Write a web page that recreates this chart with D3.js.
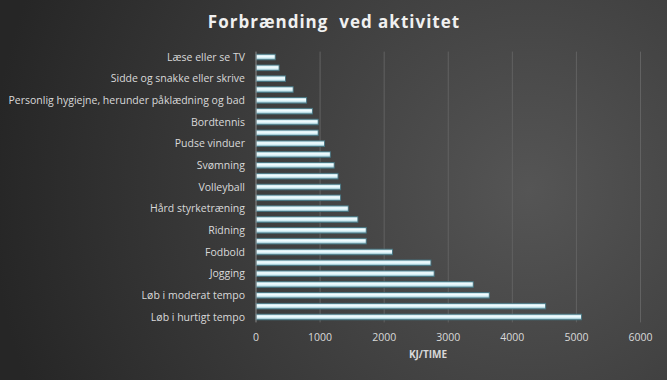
<!DOCTYPE html>
<html><head><meta charset="utf-8">
<script src="https://cdn.jsdelivr.net/npm/d3@7"></script>
<style>
html,body{margin:0;padding:0;background:#333;}
svg{display:block;}
</style></head>
<body>
<script>
const categories = [
  "Læse eller se TV","Stå stille","Sidde og snakke eller skrive","Madlavning",
  "Personlig hygiejne, herunder påklædning og bad","Gå langsomt","Bordtennis","Støvsuge",
  "Pudse vinduer","Gå i raskt tempo","Svømning","Golf","Volleyball","Dans",
  "Hård styrketræning","Cykling","Ridning","Tennis","Fodbold","Squash","Jogging",
  "Langrend","Løb i moderat tempo","Spinning","Løb i hurtigt tempo"
];
const values = [300,360,460,580,790,880,970,970,1070,1160,1220,1280,1320,1320,1440,1590,1720,1720,2130,2730,2780,3390,3640,4520,5080];
const xTicks = [0,1000,2000,3000,4000,5000,6000];
const title = "Forbrænding  ved aktivitet";
const xTitle = "KJ/TIME";

const W=667,H=380;
const svg=d3.select("body").append("svg").attr("width",W).attr("height",H);
const defs=svg.append("defs");
const bg=defs.append("radialGradient").attr("id","bg").attr("gradientUnits","userSpaceOnUse")
  .attr("cx",530).attr("cy",190).attr("r",540);
bg.append("stop").attr("offset","0%").attr("stop-color","#555555");
bg.append("stop").attr("offset","100%").attr("stop-color","#262626");
svg.append("rect").attr("width",W).attr("height",H).attr("fill","url(#bg)");

const bg2=defs.append("linearGradient").attr("id","bar").attr("x1",0).attr("y1",0).attr("x2",0).attr("y2",1);
bg2.append("stop").attr("offset","0%").attr("stop-color","#a9d3de");
bg2.append("stop").attr("offset","35%").attr("stop-color","#f4fdff");
bg2.append("stop").attr("offset","65%").attr("stop-color","#d6f0f6");
bg2.append("stop").attr("offset","100%").attr("stop-color","#6fa2b1");

const x=d3.scaleLinear().domain([0,6000]).range([256,640.5]);
const y=d3.scaleBand().domain(categories).range([51.6,322.4]).paddingInner(0.48).paddingOuter(0.24);

const g=svg.append("g");
g.selectAll(".grid").data(xTicks.slice(1)).join("line")
  .attr("x1",d=>x(d)).attr("x2",d=>x(d)).attr("y1",51.6).attr("y2",322.4)
  .attr("stroke","#626262").attr("stroke-width",1);

g.selectAll(".bar").data(values).join("rect")
  .attr("x",x(0)).attr("y",(d,i)=>y(categories[i]))
  .attr("width",d=>x(d)-x(0)).attr("height",y.bandwidth())
  .attr("fill","url(#bar)").attr("stroke","#46737f").attr("stroke-width",0.9);

g.append("line").attr("x1",x(0)).attr("x2",x(0)).attr("y1",51.6).attr("y2",322.4)
  .attr("stroke","#8a8a8a").attr("stroke-width",1);

const font="'Open Sans', 'Liberation Sans', sans-serif";
g.selectAll(".ylab").data(categories.filter((c,i)=>i%2===0)).join("text")
  .attr("x",245).attr("y",d=>y(d)+y.bandwidth()/2).attr("dy","0.35em")
  .attr("text-anchor","end").attr("fill","#d9d9d9").attr("font-family",font)
  .attr("font-size",10.5).text(d=>d);

g.selectAll(".xlab").data(xTicks).join("text")
  .attr("x",d=>x(d)).attr("y",341).attr("text-anchor","middle")
  .attr("fill","#d9d9d9").attr("font-family",font).attr("font-size",10.5).text(d=>d);

svg.append("text").attr("x",428).attr("y",358).attr("text-anchor","middle")
  .attr("fill","#d9d9d9").attr("font-family",font).attr("font-size",10).attr("font-weight","bold")
  .text(xTitle);

svg.append("text").attr("x",334).attr("y",28).attr("text-anchor","middle")
  .attr("fill","#f0f0f0").attr("font-family",font).attr("font-size",17).attr("font-weight","bold")
  .attr("letter-spacing","1px").attr("xml:space","preserve").style("white-space","pre")
  .text(title);
</script>
</body></html>
